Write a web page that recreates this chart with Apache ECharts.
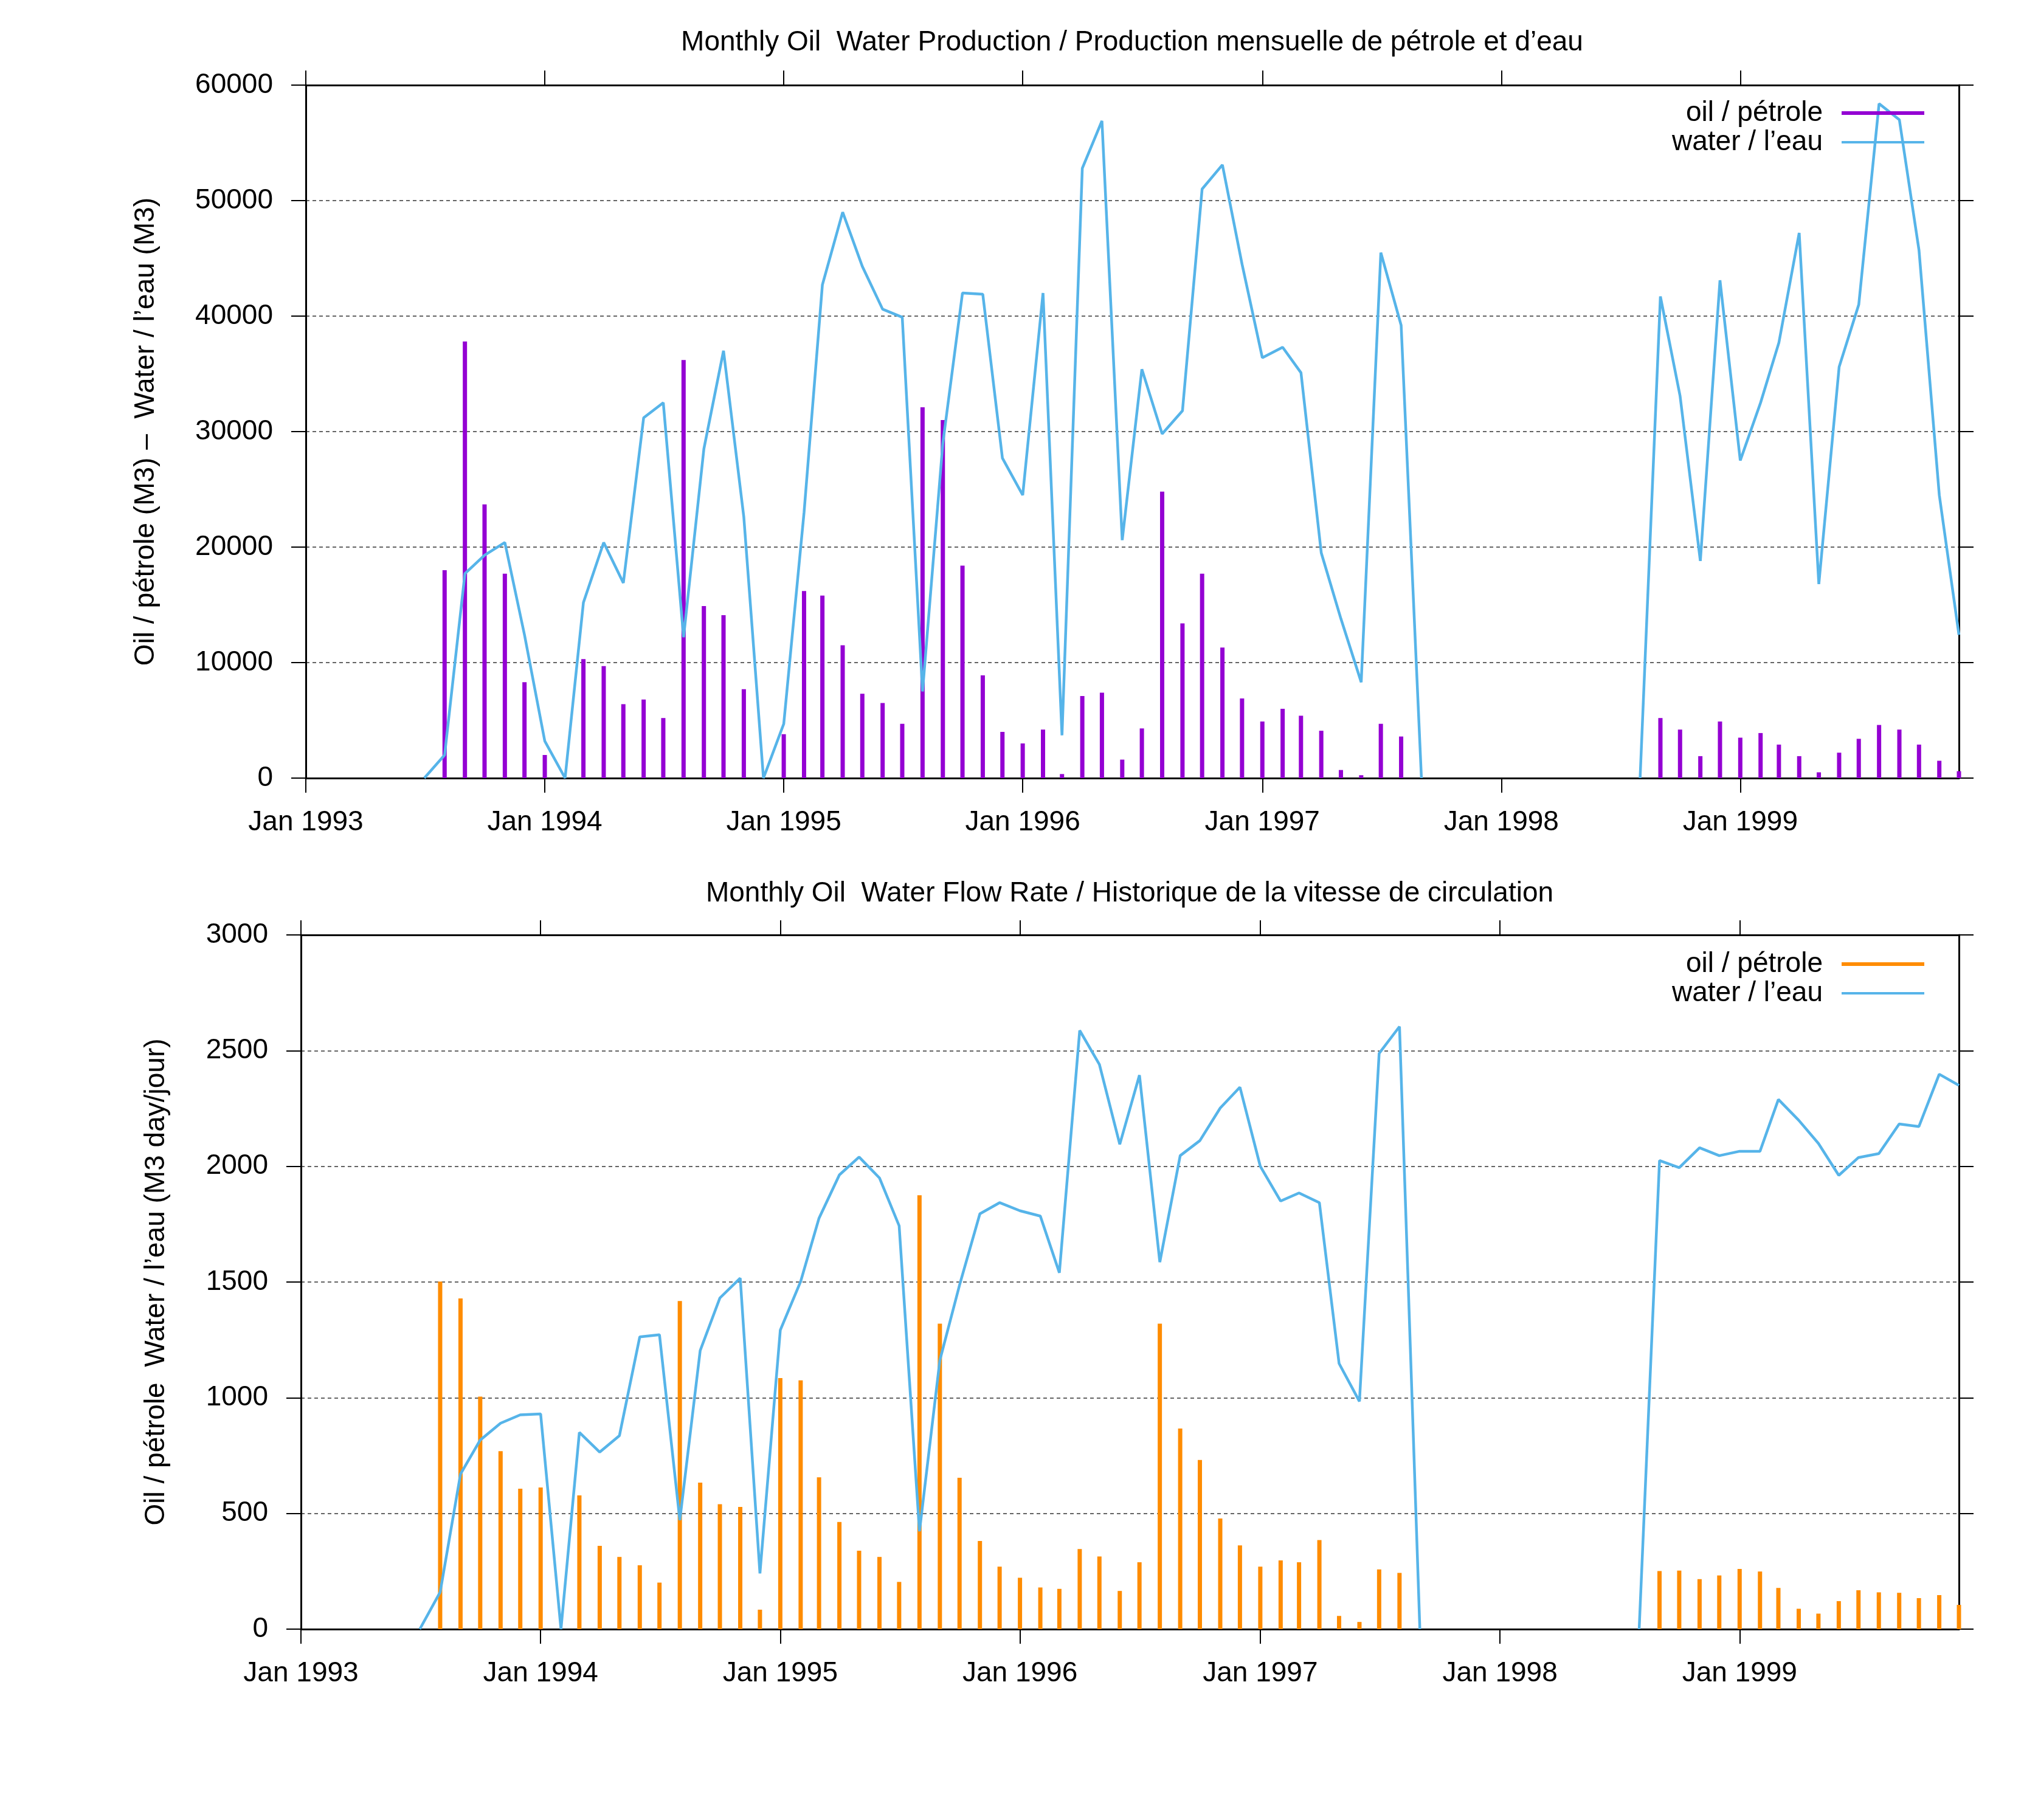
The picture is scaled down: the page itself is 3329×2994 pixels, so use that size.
<!DOCTYPE html>
<html>
<head>
<meta charset="utf-8">
<title>Monthly Oil Water Production</title>
<script src="https://cdn.jsdelivr.net/npm/echarts@6/dist/echarts.min.js"></script>
<style>
  html, body { margin: 0; padding: 0; background: #fff; }
  #chart { width: 3329px; height: 2994px; }
</style>
</head>
<body>
<div id="chart"></div>
<script>
// months Jul 1993 .. Dec 1999 (null = no record)
const months = [
  '1993-07-01', '1993-08-01', '1993-09-01', '1993-10-01', '1993-11-01', '1993-12-01',
  '1994-01-01', '1994-02-01', '1994-03-01', '1994-04-01', '1994-05-01', '1994-06-01',
  '1994-07-01', '1994-08-01', '1994-09-01', '1994-10-01', '1994-11-01', '1994-12-01',
  '1995-01-01', '1995-02-01', '1995-03-01', '1995-04-01', '1995-05-01', '1995-06-01',
  '1995-07-01', '1995-08-01', '1995-09-01', '1995-10-01', '1995-11-01', '1995-12-01',
  '1996-01-01', '1996-02-01', '1996-03-01', '1996-04-01', '1996-05-01', '1996-06-01',
  '1996-07-01', '1996-08-01', '1996-09-01', '1996-10-01', '1996-11-01', '1996-12-01',
  '1997-01-01', '1997-02-01', '1997-03-01', '1997-04-01', '1997-05-01', '1997-06-01',
  '1997-07-01', '1997-08-01', '1997-09-01', '1997-10-01', '1997-11-01', '1997-12-01',
  '1998-01-01', '1998-02-01', '1998-03-01', '1998-04-01', '1998-05-01', '1998-06-01',
  '1998-07-01', '1998-08-01', '1998-09-01', '1998-10-01', '1998-11-01', '1998-12-01',
  '1999-01-01', '1999-02-01', '1999-03-01', '1999-04-01', '1999-05-01', '1999-06-01',
  '1999-07-01', '1999-08-01', '1999-09-01', '1999-10-01', '1999-11-01', '1999-12-01'
];

// monthly production, M3
const oilProd = [
  0, 18000, 37800, 23700, 17700, 8300,
  2000, 0, 10300, 9700, 6400, 6800, 5200, 36200, 14900, 14100, 7700, 0,
  3800, 16200, 15800, 11500, 7300, 6500, 4700, 32100, 31000, 18400, 8900, 4000,
  3000, 4200, 350, 7100, 7400, 1600, 4300, 24800, 13400, 17700, 11300, 6900,
  4900, 6000, 5400, 4100, 700, 250, 4700, 3600, null, null, null, null,
  null, null, null, null, null, null, null, null, 5200, 4200, 1900, 4900,
  3500, 3900, 2900, 1900, 500, 2200, 3400, 4600, 4200, 2900, 1500, 600
];
const waterProd = [
  0, 2000, 17700, 19300, 20400, 12400,
  3200, 0, 15200, 20400, 16900, 31200, 32500, 12200, 28500, 37000, 22600, 0,
  4700, 23000, 42700, 49000, 44300, 40600, 39900, 7500, 29000, 42000, 41900, 27700,
  24500, 42000, 3700, 52800, 56900, 20600, 35400, 29800, 31800, 51000, 53100, 44500,
  36400, 37300, 35100, 19500, 13800, 8300, 45500, 39200, 0, null, null, null,
  null, null, null, null, null, null, null, 0, 41700, 33100, 18800, 43100,
  27500, 32500, 37700, 47200, 16800, 35600, 41000, 58400, 57000, 45700, 24500, 12400
];

// flow rate, M3 day/jour
const oilRate = [
  0, 1502, 1429, 1005, 769, 607,
  612, 0, 578, 360, 312, 276, 201, 1418, 633, 540, 528, 84,
  1085, 1075, 656, 463, 339, 312, 204, 1875, 1320, 654, 381, 270,
  222, 180, 174, 346, 314, 165, 289, 1320, 867, 731, 478, 362,
  270, 297, 289, 385, 57, 31, 258, 243, null, null, null, null,
  null, null, null, null, null, null, null, null, 251, 253, 216, 232,
  260, 249, 178, 88, 67, 121, 168, 159, 157, 134, 147, 105
];
const waterRate = [
  0, 160, 670, 817, 890, 926,
  930, 0, 850, 765, 836, 1263, 1272, 471, 1204, 1431, 1517, 241,
  1292, 1502, 1776, 1963, 2040, 1950, 1743, 423, 1162, 1487, 1795, 1843,
  1808, 1785, 1540, 2587, 2440, 2095, 2394, 1586, 2046, 2111, 2252, 2342,
  2000, 1850, 1885, 1843, 1148, 984, 2488, 2604, 0, null, null, null,
  null, null, null, null, null, null, null, 0, 2025, 1994, 2080, 2046,
  2065, 2065, 2289, 2199, 2099, 1961, 2038, 2055, 2183, 2172, 2398, 2350
];

const yearTicks = ['1993-01-01', '1994-01-01', '1995-01-01', '1996-01-01',
                   '1997-01-01', '1998-01-01', '1999-01-01'];
const xStart = '1993-01-01';
const xEnd = '1999-12-01';
const monthNames = ['Jan', 'Feb', 'Mar', 'Apr', 'May', 'Jun', 'Jul', 'Aug', 'Sep', 'Oct', 'Nov', 'Dec'];

const FONT = "'Liberation Sans', Arial, sans-serif";
const FS = 46;
const OIL1 = '#9400d3';
const OIL2 = '#ff8c00';
const WATER = '#56b4e9';

// dates as UTC milliseconds on a plain value axis
const ms = s => Date.parse(s + 'T00:00:00Z');
const tickVals = yearTicks.map(ms);
const pairs = vals => months.map((m, i) => [ms(m), vals[i]]);

function xAxes(gridIndex) {
  const common = {
    type: 'value', gridIndex: gridIndex,
    min: ms(xStart), max: ms(xEnd),
    axisLine: { show: true, onZero: false, lineStyle: { color: '#000', width: 3 } },
    axisTick: { show: true, inside: false, length: 24, customValues: tickVals,
                lineStyle: { color: '#000', width: 2 } },
    splitLine: { show: false }
  };
  return [
    Object.assign({}, common, {
      position: 'bottom',
      axisLabel: {
        customValues: tickVals, margin: 50, color: '#000', fontFamily: FONT, fontSize: FS,
        formatter: v => { const d = new Date(v); return monthNames[d.getUTCMonth()] + ' ' + d.getUTCFullYear(); }
      }
    }),
    Object.assign({}, common, { position: 'top', axisLabel: { show: false } })
  ];
}

function yAxes(gridIndex, max, interval, name, nameGap) {
  const common = {
    type: 'value', gridIndex: gridIndex, min: 0, max: max, interval: interval,
    axisLine: { show: true, lineStyle: { color: '#000', width: 3 } },
    axisTick: { show: true, inside: false, length: 24, lineStyle: { color: '#000', width: 2 } }
  };
  return [
    Object.assign({}, common, {
      position: 'left',
      name: name, nameLocation: 'middle', nameGap: nameGap,
      nameTextStyle: { color: '#000', fontFamily: FONT, fontSize: FS },
      axisLabel: { margin: 54, color: '#000', fontFamily: FONT, fontSize: FS, formatter: v => String(v) },
      splitLine: { show: true, lineStyle: { color: '#333', width: 1.5, type: [6, 5] } }
    }),
    Object.assign({}, common, {
      position: 'right', axisLabel: { show: false }, splitLine: { show: false }
    })
  ];
}

// bottom series carry a trailing space so each legend keeps its own colour
function legend(name, top, h) {
  return {
    data: [{ name: name, icon: 'rect' }],
    formatter: n => n.trim(),
    right: 164, top: top, padding: 0,
    align: 'right', itemWidth: 136, itemHeight: h,
    textStyle: { color: '#000', fontFamily: FONT, fontSize: FS, padding: [0, 26, 0, 0] }
  };
}

const chart = echarts.init(document.getElementById('chart'));
chart.setOption({
  animation: false,
  backgroundColor: '#fff',
  title: [
    { text: 'Monthly Oil  Water Production / Production mensuelle de pétrole et d’eau',
      left: 1862, top: 47, textAlign: 'center', padding: 0,
      textStyle: { color: '#000', fontFamily: FONT, fontSize: FS, fontWeight: 'normal' } },
    { text: 'Monthly Oil  Water Flow Rate / Historique de la vitesse de circulation',
      left: 1858, top: 1447, textAlign: 'center', padding: 0,
      textStyle: { color: '#000', fontFamily: FONT, fontSize: FS, fontWeight: 'normal' } }
  ],
  legend: [
    legend('oil / pétrole', 163, 6),
    legend('water / l’eau', 211, 4),
    legend('oil / pétrole ', 1563, 6),
    legend('water / l’eau ', 1611, 4)
  ],
  grid: [
    { left: 503, right: 107, top: 140, height: 1140 },
    { left: 495, right: 107, top: 1538, height: 1142 }
  ],
  xAxis: xAxes(0).concat(xAxes(1)),
  yAxis: yAxes(0, 60000, 10000, 'Oil / pétrole (M3) –  Water / l’eau (M3)', 240)
    .concat(yAxes(1, 3000, 500, 'Oil / pétrole  Water / l’eau (M3 day/jour)', 215)),
  series: [
    { name: 'oil / pétrole', type: 'bar', xAxisIndex: 0, yAxisIndex: 0,
      barWidth: 7, itemStyle: { color: OIL1 }, data: pairs(oilProd) },
    { name: 'water / l’eau', type: 'line', xAxisIndex: 0, yAxisIndex: 0,
      showSymbol: false, symbol: 'none', lineStyle: { color: WATER, width: 4.5 },
      itemStyle: { color: WATER }, data: pairs(waterProd) },
    { name: 'oil / pétrole ', type: 'bar', xAxisIndex: 2, yAxisIndex: 2,
      barWidth: 7, itemStyle: { color: OIL2 }, data: pairs(oilRate) },
    { name: 'water / l’eau ', type: 'line', xAxisIndex: 2, yAxisIndex: 2,
      showSymbol: false, symbol: 'none', lineStyle: { color: WATER, width: 4.5 },
      itemStyle: { color: WATER }, data: pairs(waterRate) }
  ]
});
</script>
</body>
</html>
